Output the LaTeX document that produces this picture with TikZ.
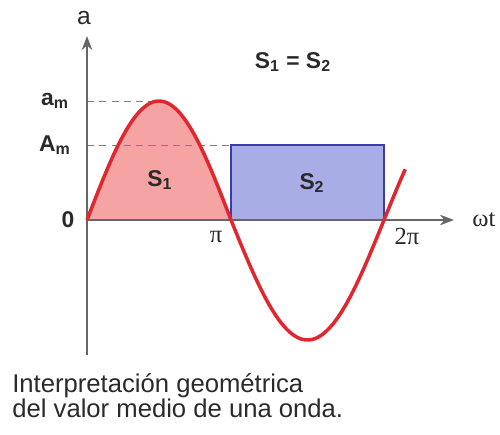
\documentclass[tikz,border=0pt]{standalone}
\usepackage{fontspec}
\setmainfont{Liberation Sans}
\newfontfamily\grk{Liberation Serif}
\usepackage{tikz}
\usetikzlibrary{arrows.meta, positioning}
\definecolor{wavered}{HTML}{E0262E}
\definecolor{wavepink}{HTML}{F5A3A3}
\definecolor{waveblue}{HTML}{3A3CA8}
\definecolor{waveblueligh}{HTML}{A9ADE6}
\definecolor{waveaxis}{HTML}{666666}
\definecolor{wavetext}{HTML}{2A2A2A}

\begin{document}
\begin{tikzpicture}[
  x=0.02cm, y=0.02cm,
  axis/.style={-{Stealth[length=8pt, width=6pt]}, line width=1pt, waveaxis},
  guide/.style={dash pattern=on 4pt off 3pt, thin, gray},
  lbl/.style={font=\fontsize{13}{15}\selectfont\bfseries, text=wavetext, inner sep=1pt},
  greek/.style={font=\fontsize{14}{15}\selectfont\grk, text=wavetext, inner sep=1pt},
  wave/.style={line width=2pt, wavered, line join=round}
]
\useasboundingbox (-87,-214) rectangle (413,220);

\coordinate (O) at (0,0);
\coordinate (xend) at (367,0);
\coordinate (ybot) at (0,-135);
\coordinate (yend) at (0,184);
\coordinate (pk) at (73,119);
\coordinate (pi) at (144,0);
\coordinate (twopi) at (297,0);

% areas
\fill[wavepink] plot[domain=0:180, samples=60] ({\x/180*144}, {119*sin(\x)}) -- cycle;
\draw[waveblue, line width=1pt, fill=waveblueligh] (pi) rectangle (297,75);

% guides
\draw[guide] (0,119) -- (pk);
\draw[guide] (0,75) -- (144,75);

% axes
\draw[axis] (O) -- (xend);
\draw[axis] (ybot) -- (yend);

% wave
\draw[wave] plot[domain=0:180, samples=60] ({\x/180*144}, {119*sin(\x)})
  -- plot[domain=180:385, samples=70] ({144+(\x-180)/180*153}, {120*sin(\x)});

\node[lbl, font=\fontsize{14}{15}\selectfont] (alab) at (-3,202) {a};
\node[greek] (wlab) at (397,0) {ωt};
\node[lbl] (amlab) at (-32,119) {a\textsubscript{m}};
\node[lbl] (Amlab) at (-32,75) {A\textsubscript{m}};
\node[lbl] (zero) at (-19,0) {0};
\node[greek] (pilab) at (129,-17) {π};
\node[greek] (twopilab) at (320,-16) {2π};
\node[lbl] (s1) at (73,40) {S\textsubscript{1}};
\node[lbl] (s2) at (225,37) {S\textsubscript{2}};
\node[lbl] (eq) at (206,158) {S\textsubscript{1} = S\textsubscript{2}};

\node[anchor=north west, align=left, text=wavetext, inner sep=0pt,
  font=\fontsize{14.6}{14.2}\selectfont] (cap) at (-75,-153)
  {Interpretación geométrica\\del valor medio de una onda.};
\end{tikzpicture}
\end{document}
